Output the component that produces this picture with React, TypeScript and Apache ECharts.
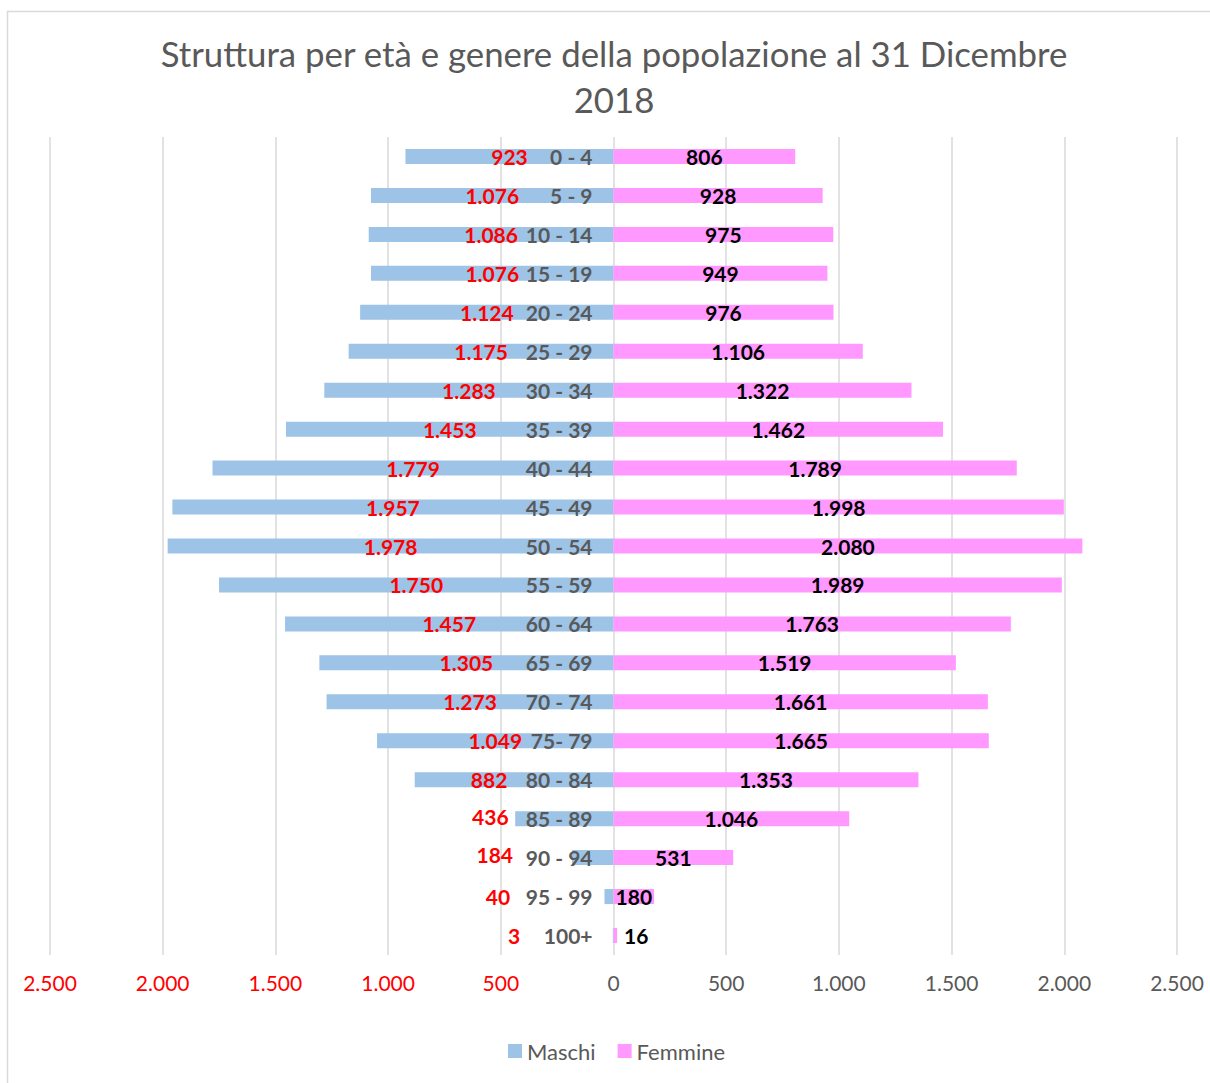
import React, { useEffect, useRef } from "react";
import * as echarts from "echarts";

const categories = ["0 - 4", "5 - 9", "10 - 14", "15 - 19", "20 - 24", "25 - 29", "30 - 34", "35 - 39", "40 - 44", "45 - 49", "50 - 54", "55 - 59", "60 - 64", "65 - 69", "70 - 74", "75- 79", "80 - 84", "85 - 89", "90 - 94", "95 - 99", "100+"];
const maschi = [923, 1076, 1086, 1076, 1124, 1175, 1283, 1453, 1779, 1957, 1978, 1750, 1457, 1305, 1273, 1049, 882, 436, 184, 40, 3];
const femmine = [806, 928, 975, 949, 976, 1106, 1322, 1462, 1789, 1998, 2080, 1989, 1763, 1519, 1661, 1665, 1353, 1046, 531, 180, 16];

const titleText = "Struttura per età e genere della popolazione al 31 Dicembre\n2018";
const FONT = "Lato";

function fmt(v: number): string {
  const s = String(Math.round(Math.abs(v)));
  return s.replace(/\B(?=(\d{3})+(?!\d))/g, ".");
}

// manual label shifts (as in the original, to avoid overlap with category names)
const maleLabelOffsets: Record<number, [number, number]> = {
  16: [-25, 0],
  17: [-74, -2],
  18: [-98, -3],
  19: [-111, 0],
  20: [-99, 0],
};
const femaleLabelOffsets: Record<number, [number, number]> = {
  20: [21, 0],
};

export default function App() {
  const ref = useRef<HTMLDivElement>(null);
  useEffect(() => {
    if (!ref.current) return;
    const chart = echarts.init(ref.current, null, { renderer: "svg" });
    chart.setOption({
      animation: false,
      backgroundColor: "#ffffff",
      textStyle: { fontFamily: FONT },
      graphic: [
        {
          type: "rect",
          shape: { x: 7.5, y: 11.5, width: 1220, height: 1100 },
          style: { fill: "none", stroke: "#d9d9d9", lineWidth: 1.5 },
          silent: true,
          z: -10,
        },
      ],
      title: {
        text: titleText,
        left: 609,
        top: 25,
        textAlign: "center",
        textStyle: {
          fontFamily: FONT,
          fontSize: 34.8,
          fontWeight: "normal",
          color: "#595959",
          lineHeight: 46,
        },
      },
      legend: {
        data: ["Maschi", "Femmine"],
        left: 503,
        top: 1035,
        icon: "rect",
        itemWidth: 14,
        itemHeight: 14,
        itemGap: 22,
        textStyle: { fontFamily: FONT, fontSize: 22, color: "#595959" },
      },
      grid: { left: 50, right: 33, top: 137, bottom: 128, containLabel: false, outerBoundsMode: "none" },
      xAxis: {
        type: "value",
        min: -2500,
        max: 2500,
        interval: 500,
        axisLine: { show: false },
        axisTick: { show: false },
        splitLine: { show: true, lineStyle: { color: "#d9d9d9", width: 1.5 } },
        axisLabel: {
          margin: 17,
          fontFamily: FONT,
          fontSize: 21,
          color: "#595959",
          formatter: (v: number) => (v < 0 ? "{neg|" + fmt(v) + "}" : fmt(v)),
          rich: {
            neg: { color: "#ff0000", fontFamily: FONT, fontSize: 21 },
          },
        },
      },
      yAxis: {
        type: "category",
        data: categories,
        inverse: true,
        position: "left",
        offset: -563.5,
        axisLine: { show: false, onZero: false },
        axisTick: { show: false },
        splitLine: { show: false },
        axisLabel: {
          margin: 21,
          fontFamily: FONT,
          fontSize: 21,
          fontWeight: "bold",
          color: "#595959",
        },
        z: 10,
      },
      series: [
        {
          name: "Maschi",
          type: "bar",
          barWidth: 15,
          barGap: "-100%",
          itemStyle: { color: "#9dc3e6" },
          label: {
            show: true,
            position: "inside",
            fontFamily: FONT,
            fontSize: 21,
            fontWeight: "bold",
            color: "#ff0000",
            formatter: (p: any) => fmt(p.value),
          },
          data: maschi.map((v, i) =>
            maleLabelOffsets[i]
              ? { value: -v, label: { offset: maleLabelOffsets[i] } }
              : { value: -v }
          ),
        },
        {
          name: "Femmine",
          type: "bar",
          barWidth: 15,
          barGap: "-100%",
          itemStyle: { color: "#ff99ff" },
          label: {
            show: true,
            position: "inside",
            fontFamily: FONT,
            fontSize: 21,
            fontWeight: "bold",
            color: "#000000",
            formatter: (p: any) => fmt(p.value),
          },
          data: femmine.map((v, i) =>
            femaleLabelOffsets[i]
              ? { value: v, label: { offset: femaleLabelOffsets[i] } }
              : { value: v }
          ),
        },
      ],
    });
    return () => chart.dispose();
  }, []);
  return (
    <div
      ref={ref}
      style={{ position: "fixed", left: 0, top: 0, width: 1210, height: 1083 }}
    />
  );
}
